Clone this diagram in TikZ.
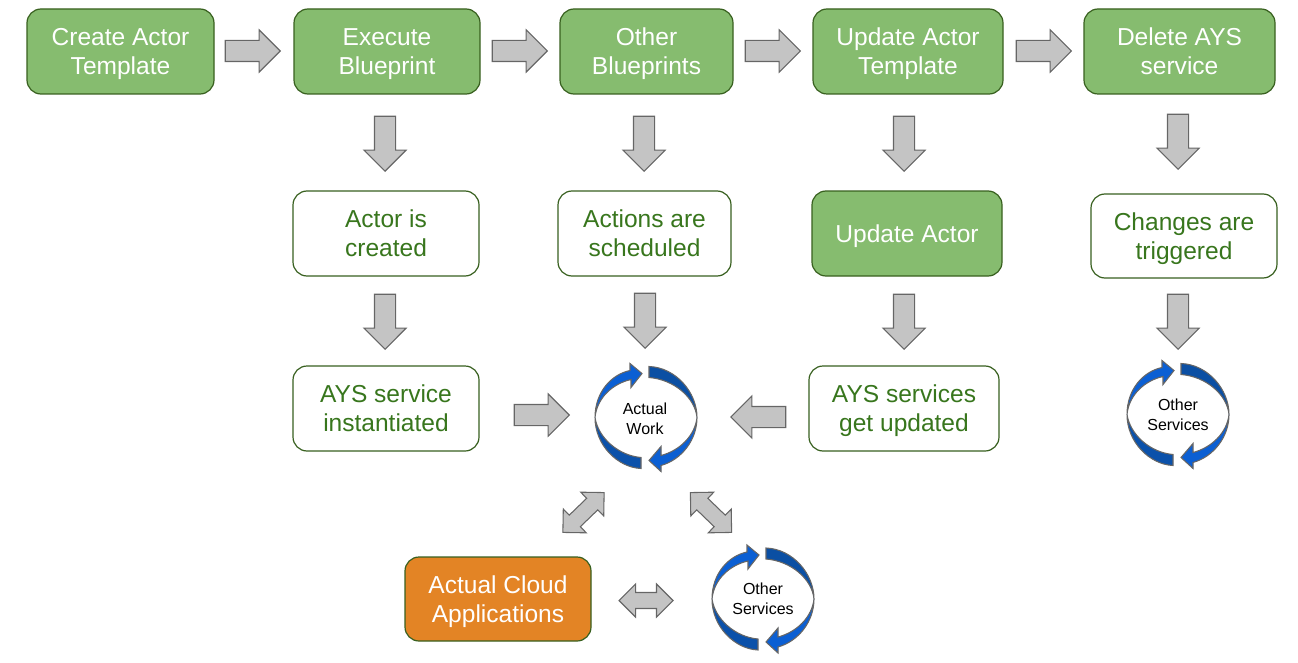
\documentclass[tikz,border=0pt]{standalone}
\usepackage{fontspec}
\setmainfont{Liberation Sans}
\usetikzlibrary{shapes.arrows}
\definecolor{boxgreen}{HTML}{86BC6F}
\definecolor{edgegreen}{HTML}{38601F}
\definecolor{textgreen}{HTML}{38761D}
\definecolor{boxorange}{HTML}{E38425}
\definecolor{arrowgray}{HTML}{C4C4C4}
\definecolor{arrowedge}{HTML}{666666}
\definecolor{brightblue}{HTML}{0B5FD3}
\definecolor{darkblue}{HTML}{0B4FA3}
\tikzset{
  x=0.75pt,y=-0.75pt,
  roundbox/.style={rectangle,rounded corners=10.5pt,draw=edgegreen,line width=0.9pt,inner sep=0pt,align=center,
    font=\fontsize{18.4}{21.75}\selectfont},
  twolines/.style={execute at begin node={\rule[-4pt]{0pt}{42.8pt}}},
  oneline/.style={execute at begin node={\rule[-4pt]{0pt}{22pt}}},
  greenbox/.style={roundbox,fill=boxgreen,text=white},
  whitebox/.style={roundbox,fill=white,text=textgreen},
  orangebox/.style={roundbox,fill=boxorange,text=white},
  blockarrow/.style={single arrow,anchor=tip,draw=arrowedge,fill=arrowgray,line width=0.8pt,inner xsep=0pt,inner ysep=7.5pt,
    minimum height=41.25pt,minimum width=30.75pt,single arrow head extend=7.9pt,single arrow tip angle=90},
  twoway/.style={double arrow,draw=arrowedge,fill=arrowgray,line width=0.8pt,inner xsep=0pt,inner ysep=5.6pt,
    minimum height=40.5pt,minimum width=24.75pt,double arrow head extend=6.4pt,double arrow tip angle=90},
  cyclepart/.style={draw=arrowedge,line width=0.8pt},
  cycletext/.style={inner sep=0pt,align=center,font=\fontsize{12}{15}\selectfont,text=black},
  cycle/.pic={
    \draw[cyclepart,fill=darkblue] (3,-51) .. controls (30,-50) and (51,-25) .. (51,0)
       .. controls (49,-20) and (28,-38) .. (3,-40) -- cycle;
    \draw[cyclepart,fill=darkblue!85!brightblue] (-51,0) .. controls (-51,28) and (-28,50) .. (-5,51)
       -- (-5,40) .. controls (-28,38) and (-48,20) .. (-51,0) -- cycle;
    \draw[cyclepart,fill=brightblue] (-51,0) .. controls (-51,-25) and (-35,-43) .. (-16,-47)
       -- (-16,-54) -- (-4,-44) -- (-15,-30) -- (-15,-38) .. controls (-33,-34) and (-49,-20) .. (-51,0) -- cycle;
    \draw[cyclepart,fill=brightblue] (51,0) .. controls (51,22) and (36,42) .. (15,48)
       -- (15,54) -- (3,43) -- (15,29) -- (15,38) .. controls (34,33) and (49,18) .. (51,0) -- cycle;
  }
}
\newcommand{\bx}[7]{% name, style, x0, y0, x1, y1, text
  \node[#2,minimum width={(#5-#3)*0.75pt},minimum height={(#6-#4)*0.75pt}] (#1) at ({(#3+#5)/2},{(#4+#6)/2}) {#7};}
\begin{document}
\begin{tikzpicture}
\useasboundingbox (0,0) rectangle (1298,663);
% top row
\bx{create}{greenbox,twolines}{27}{9}{214}{94}{Create Actor\\Template}
\bx{execute}{greenbox,twolines}{294}{9}{480}{94}{Execute\\Blueprint}
\bx{other}{greenbox,twolines}{560}{9}{733}{94}{Other\\Blueprints}
\bx{updatetpl}{greenbox,twolines}{813}{9}{1003}{94}{Update Actor\\Template}
\bx{delete}{greenbox,twolines}{1084}{9}{1275}{94}{Delete AYS\\service}
% second row
\bx{created}{whitebox,twolines}{293}{191}{479}{276}{Actor is\\created}
\bx{scheduled}{whitebox,twolines}{558}{191}{731}{276}{Actions are\\scheduled}
\bx{updateactor}{greenbox,oneline}{812}{191}{1002}{276}{Update Actor}
\bx{triggered}{whitebox,twolines}{1091}{194}{1277}{278}{Changes are\\triggered}
% third row
\bx{instantiated}{whitebox,twolines}{293}{366}{479}{451}{AYS service\\instantiated}
\bx{updated}{whitebox,twolines}{809}{366}{999}{451}{AYS services\\get updated}
\bx{cloud}{orangebox,twolines}{405}{557}{591}{641}{Actual Cloud\\Applications}
% horizontal block arrows
\node[blockarrow] (a1) at (281,51) {};
\node[blockarrow] (a2) at (548,51) {};
\node[blockarrow] (a3) at (801,51) {};
\node[blockarrow] (a4) at (1072,51) {};
% downward block arrows
\node[blockarrow,rotate=-90] (d1) at (385,172) {};
\node[blockarrow,rotate=-90] (d2) at (644,172) {};
\node[blockarrow,rotate=-90] (d3) at (904,172) {};
\node[blockarrow,rotate=-90] (d4) at (1178,170) {};
\node[blockarrow,rotate=-90] (d5) at (385,350) {};
\node[blockarrow,rotate=-90] (d6) at (645,349) {};
\node[blockarrow,rotate=-90] (d7) at (904,350) {};
\node[blockarrow,rotate=-90] (d8) at (1178,350) {};
% toward the work cycle
\node[blockarrow] (w1) at (570,415) {};
\node[blockarrow,rotate=180] (w2) at (730,417) {};
% two-way arrows
\node[twoway,rotate=44,minimum height=43pt,minimum width=23pt] (t1) at (583.5,512.5) {};
\node[twoway,rotate=-44,minimum height=43pt,minimum width=23pt] (t2) at (711,512.5) {};
\node[twoway] (t3) at (646,600.5) {};
% cycles
\pic at (646,417.5) {cycle};
\pic at (1178,414.5) {cycle};
\pic at (763,599) {cycle};
\node[cycletext] (work) at (645,419) {Actual\\Work};
\node[cycletext] (svc1) at (1178,415) {Other\\Services};
\node[cycletext] (svc2) at (763,599) {Other\\Services};
\end{tikzpicture}
\end{document}
